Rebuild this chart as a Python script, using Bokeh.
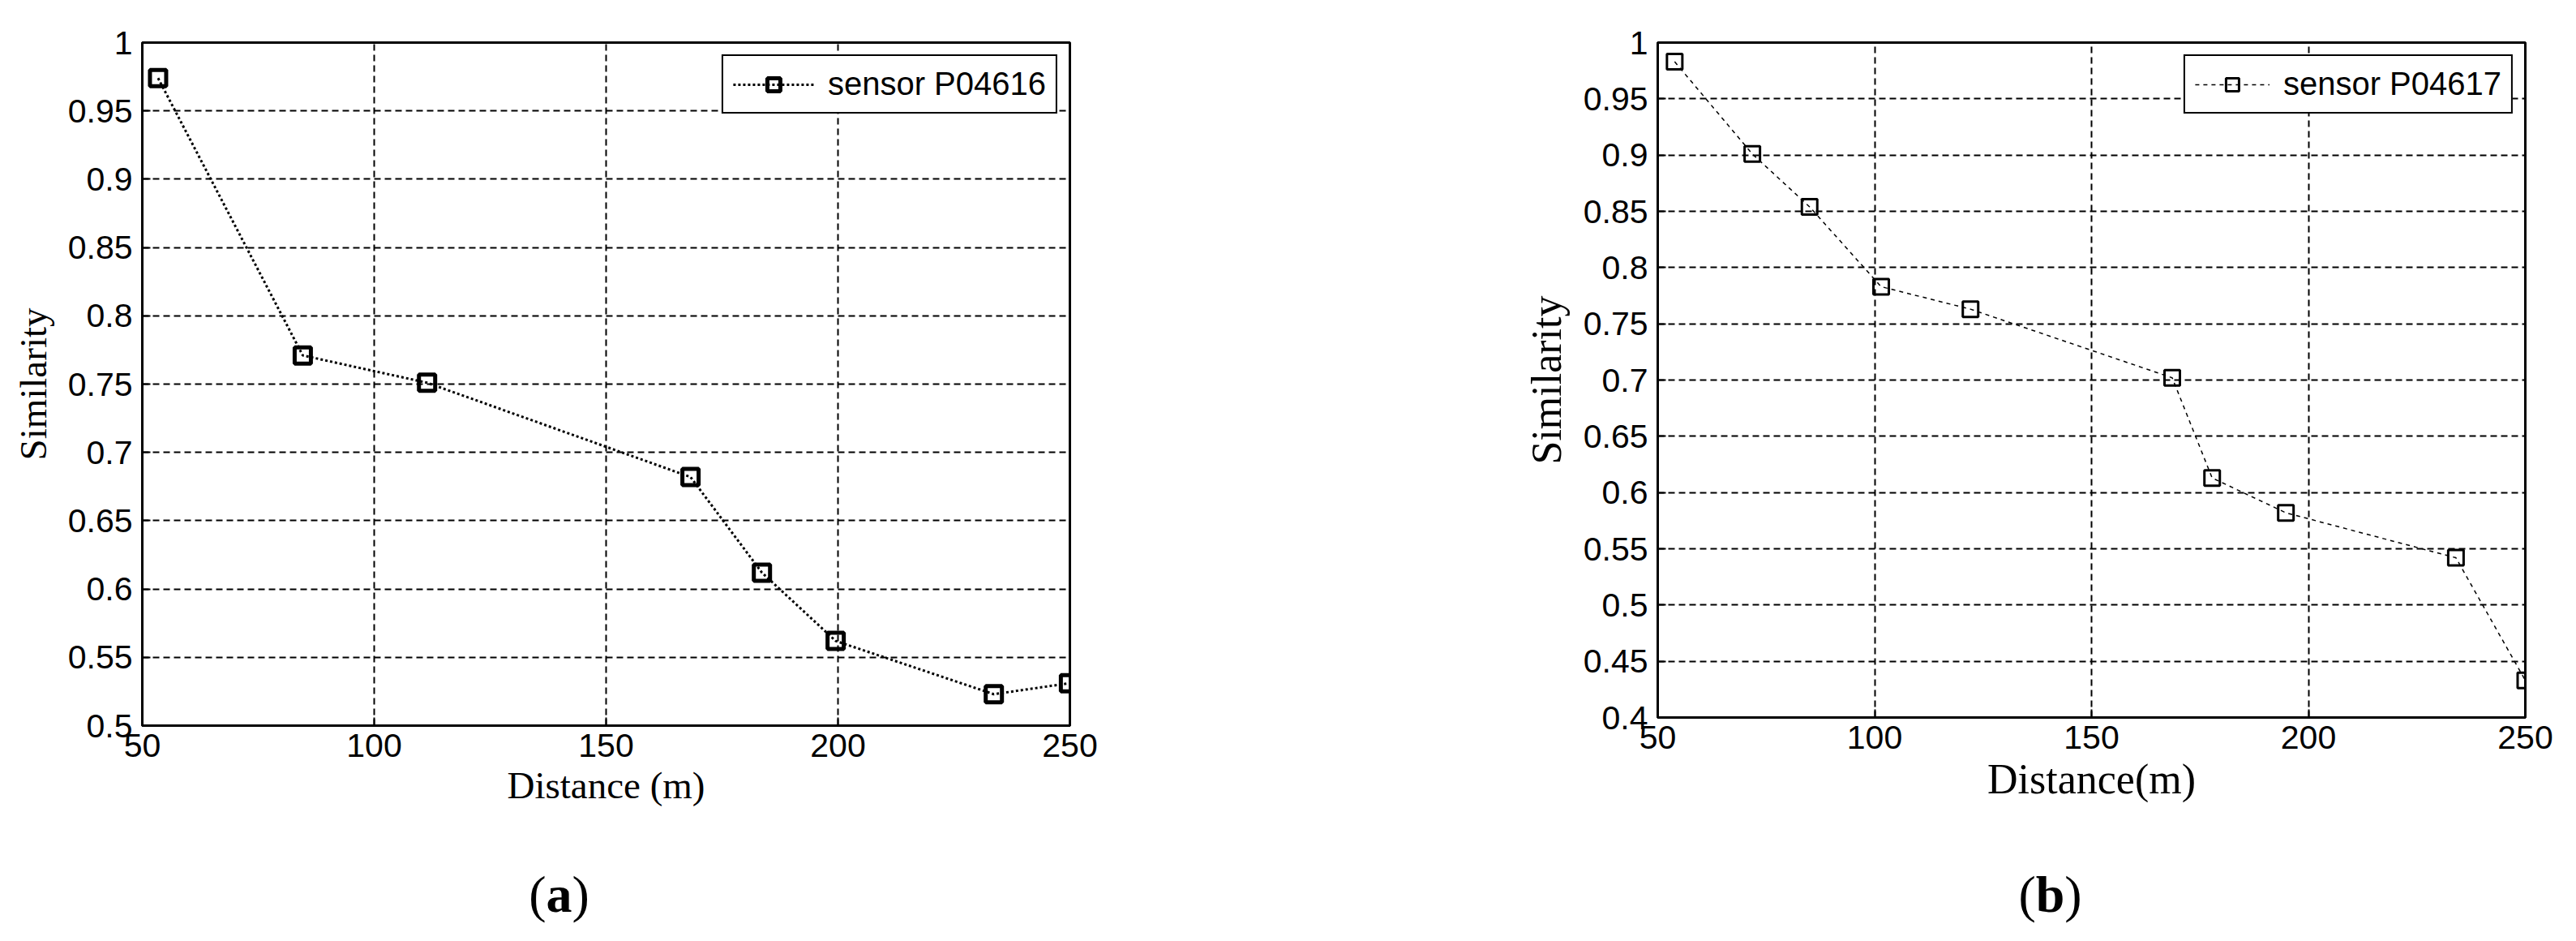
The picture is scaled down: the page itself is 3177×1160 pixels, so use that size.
from bokeh.plotting import figure
from bokeh.layouts import row, column
from bokeh.models import Range1d, FixedTicker
from bokeh.core.properties import value
from bokeh.embed import file_html
from bokeh.resources import INLINE

# ---------------- data ----------------
dist_a = [53.4, 84.6, 111.4, 168.2, 183.6, 199.5, 233.6, 249.8]
sim_a = [0.974, 0.771, 0.751, 0.682, 0.612, 0.562, 0.523, 0.531]
label_a = "sensor P04616"

dist_b = [53.9, 71.8, 85.0, 101.5, 122.1, 168.6, 177.8, 194.8, 234.0, 250.0]
sim_b = [0.983, 0.901, 0.854, 0.783, 0.763, 0.702, 0.613, 0.582, 0.542, 0.433]
label_b = "sensor P04617"

x_ticks = [50, 100, 150, 200, 250]
x_tick_labels = ["50", "100", "150", "200", "250"]
y_ticks_a = [0.5, 0.55, 0.6, 0.65, 0.7, 0.75, 0.8, 0.85, 0.9, 0.95, 1.0]
y_tick_labels_a = ["0.5", "0.55", "0.6", "0.65", "0.7", "0.75", "0.8", "0.85", "0.9", "0.95", "1"]
y_ticks_b = [0.4, 0.45, 0.5, 0.55, 0.6, 0.65, 0.7, 0.75, 0.8, 0.85, 0.9, 0.95, 1.0]
y_tick_labels_b = ["0.4", "0.45", "0.5", "0.55", "0.6", "0.65", "0.7", "0.75", "0.8", "0.85", "0.9", "0.95", "1"]

x_title_a = "Distance (m)"
x_title_b = "Distance(m)"
y_title = "Similarity"
captions = ["a", "b"]

SANS = "Liberation Sans"
SERIF = "Liberation Serif"

PANEL_H = 1042


def make_panel(xs, ys, label, yticks, ylabels, xtitle, title_size,
               border_left, fw, border_right, border_top, fh,
               line_width, line_dash, msize, mline, glyph_w):
    p = figure(output_backend="svg", toolbar_location=None,
               frame_width=fw, frame_height=fh,
               min_border_left=border_left, min_border_right=border_right,
               min_border_top=border_top, min_border_bottom=PANEL_H - border_top - fh,
               x_range=Range1d(x_ticks[0], x_ticks[-1]),
               y_range=Range1d(yticks[0], yticks[-1]),
               background_fill_color="white", border_fill_color="white")
    p.outline_line_color = "black"
    p.outline_line_width = 3
    p.outline_line_alpha = 1

    p.xaxis.ticker = FixedTicker(ticks=x_ticks)
    p.xaxis.major_label_overrides = {t: l for t, l in zip(x_ticks, x_tick_labels)}
    p.yaxis.ticker = FixedTicker(ticks=yticks)
    p.yaxis.major_label_overrides = {t: l for t, l in zip(yticks, ylabels)}
    for ax in (p.xaxis, p.yaxis):
        ax.axis_line_color = "black"
        ax.axis_line_width = 3
        ax.major_tick_in = 10
        ax.major_tick_out = 0
        ax.major_tick_line_width = 2
        ax.minor_tick_line_color = None
        ax.major_label_text_font = SANS
        ax.major_label_text_font_size = "41px"
        ax.major_label_text_color = "black"
        ax.axis_label_text_font = SERIF
        ax.axis_label_text_font_style = "normal"
        ax.axis_label_text_font_size = title_size
        ax.axis_label_text_color = "black"
    p.xaxis.axis_label = xtitle
    p.yaxis.axis_label = y_title
    p.xaxis.major_label_standoff = 10
    p.yaxis.major_label_standoff = 12
    p.xaxis.axis_label_standoff = 6
    p.yaxis.axis_label_standoff = 14

    for g in (p.xgrid, p.ygrid):
        g.grid_line_color = "black"
        g.grid_line_width = 2
        g.grid_line_dash = "8 5"
        g.grid_line_alpha = 1
    p.xgrid.ticker = FixedTicker(ticks=x_ticks)
    p.ygrid.ticker = FixedTicker(ticks=yticks)

    p.line(xs, ys, line_color="black", line_width=line_width, line_dash=line_dash,
           legend_label=label)
    p.scatter(xs, ys, marker="square", size=msize, fill_alpha=0,
              line_color="black", line_width=mline, legend_label=label)

    lg = p.legend[0]
    lg.location = "top_right"
    lg.margin = 15
    lg.padding = 12
    lg.spacing = 0
    lg.glyph_width = glyph_w
    lg.glyph_height = 40
    lg.label_standoff = 17
    lg.label_text_font = SANS
    lg.label_text_font_size = "40px"
    lg.label_text_color = "black"
    lg.border_line_color = "black"
    lg.border_line_width = 2.5
    lg.border_line_alpha = 1
    lg.background_fill_alpha = 1
    return p


pa = make_panel(dist_a, sim_a, label_a, y_ticks_a, y_tick_labels_a, x_title_a, "47px",
                175, 1144, 373, 52, 842,
                3, "3 3", 20, 5, 100)
pb = make_panel(dist_b, sim_b, label_b, y_ticks_b, y_tick_labels_b, x_title_b, "52px",
                352, 1070, 40, 38, 832,
                1.5, "5 5", 19, 3, 92)

# ---------------- caption strip: "(a)" and "(b)" ----------------
STRIP_W = 1692 + 1462
STRIP_H = 100
cap = figure(output_backend="svg", toolbar_location=None,
             frame_width=STRIP_W, frame_height=STRIP_H,
             min_border=0, x_range=Range1d(0, STRIP_W), y_range=Range1d(0, STRIP_H),
             background_fill_color="white", border_fill_color="white")
cap.axis.visible = False
cap.grid.visible = False
cap.outline_line_color = None

FS = 64
centers = [697 - 8, 2536 - 8]          # caption centres, pixels from strip left
baseline = STRIP_H - (1110 - 8 - PANEL_H)
par_x, par_t, let_x, let_t = [], [], [], []
for c, letter in zip(centers, captions):
    wl = (0.556 if letter == "b" else 0.5) * FS
    wp = 0.333 * FS
    start = c - (2 * wp + wl) / 2
    par_x += [start, start + wp + wl]
    par_t += ["(", ")"]
    let_x.append(start + wp)
    let_t.append(letter)

cap.text(x=par_x, y=[baseline] * len(par_x), text=par_t,
         text_font=value(SERIF), text_font_size=f"{FS}px",
         text_align="left", text_baseline="alphabetic", text_color="black")
cap.text(x=let_x, y=[baseline] * len(let_x), text=let_t,
         text_font=value(SERIF), text_font_size=f"{FS}px", text_font_style="bold",
         text_align="left", text_baseline="alphabetic", text_color="black")

layout = column(row(pa, pb), cap)
open("out.html", "w").write(file_html(layout, INLINE))
